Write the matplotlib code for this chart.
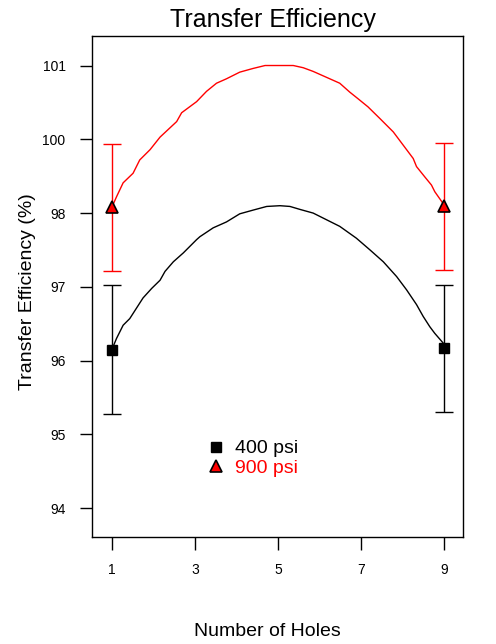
import matplotlib
matplotlib.use("Agg")
import matplotlib.pyplot as plt
from matplotlib.lines import Line2D

plt.rcParams['font.family'] = ['Liberation Sans', 'DejaVu Sans']

# ---- data ----
holes_pts = [1, 9]
eff_400 = [96.15, 96.17]
err_400 = [0.87, 0.86]
eff_900 = [98.08, 98.09]
err_900 = [0.86, 0.86]

curve_400_x = [1.0, 1.11, 1.27, 1.43, 1.59, 1.75, 1.96, 2.16, 2.28, 2.48, 2.72, 3.04, 3.12,
               3.44, 3.76, 4.08, 4.40, 4.73, 5.05, 5.29, 5.53, 5.85, 6.17, 6.49, 6.89,
               7.22, 7.54, 7.86, 8.10, 8.34, 8.50, 8.66, 8.78, 8.98, 9.0]
curve_400_y = [96.15, 96.30, 96.48, 96.57, 96.71, 96.85, 96.98, 97.09, 97.21, 97.34, 97.46,
               97.64, 97.68, 97.80, 97.88, 97.99, 98.04, 98.09, 98.10, 98.09, 98.05, 98.00,
               97.91, 97.82, 97.66, 97.50, 97.34, 97.14, 96.96, 96.76, 96.60, 96.46, 96.37,
               96.24, 96.17]

curve_900_x = [1.0, 1.11, 1.27, 1.51, 1.67, 1.92, 2.16, 2.56, 2.68, 3.04, 3.28, 3.52, 3.76,
               4.08, 4.40, 4.69, 5.05, 5.37, 5.61, 5.85, 6.09, 6.49, 6.73, 6.93, 7.17,
               7.46, 7.78, 8.02, 8.26, 8.34, 8.54, 8.70, 8.78, 8.98, 9.0]
curve_900_y = [98.08, 98.22, 98.41, 98.54, 98.72, 98.86, 99.03, 99.24, 99.36, 99.51, 99.65,
               99.76, 99.82, 99.91, 99.96, 100.0, 100.0, 100.0, 99.97, 99.92, 99.86, 99.76,
               99.64, 99.55, 99.44, 99.28, 99.10, 98.92, 98.74, 98.63, 98.49, 98.38, 98.29,
               98.13, 98.09]

x_ticks = [1, 3, 5, 7, 9]
y_tick_pos = [94, 95, 96, 97, 98, 99, 100]
y_tick_labels = ["94", "95", "96", "97", "98", "100", "101"]

fig = plt.figure(figsize=(4.96, 6.44), dpi=100)
ax = fig.add_axes([92/496, 107/644, (463-92)/496, (537-36)/644])

ax.plot(curve_400_x, curve_400_y, color='black', lw=1.0)
ax.plot(curve_900_x, curve_900_y, color='red', lw=1.0)

ax.errorbar(holes_pts, eff_400, yerr=err_400, fmt='none', ecolor='black',
            elinewidth=1.0, capsize=6.5, capthick=1.0)
ax.errorbar(holes_pts, eff_900, yerr=err_900, fmt='none', ecolor='red',
            elinewidth=1.0, capsize=6.5, capthick=1.0)
ax.plot(holes_pts, eff_400, 's', color='black', markersize=7, zorder=5)
ax.plot(holes_pts, eff_900, '^', markerfacecolor='red', markeredgecolor='black',
        markeredgewidth=1.2, markersize=8, zorder=5)

ax.set_xlim(0.52, 9.46)
ax.set_ylim(93.61, 100.40)
ax.set_xticks(x_ticks)
ax.set_xticklabels([str(t) for t in x_ticks])
ax.set_yticks(y_tick_pos)
ax.set_yticklabels(y_tick_labels)
ax.tick_params(axis='both', direction='out', length=9, width=1.0, labelsize=10, pad=10)
for s in ax.spines.values():
    s.set_linewidth(1.0)

handles = [Line2D([], [], ls='none', marker='s', color='black', markersize=7),
           Line2D([], [], ls='none', marker='^', markerfacecolor='red',
                  markeredgecolor='black', markeredgewidth=1.2, markersize=8)]
leg = ax.legend(handles, ['400 psi', '900 psi'], frameon=False, fontsize=14,
                loc='center left', bbox_to_anchor=(0.286, 0.157),
                handlelength=0.8, handletextpad=0.6, labelspacing=0.1, borderpad=0)
leg.get_texts()[0].set_color('black')
leg.get_texts()[1].set_color('red')

fig.text(273/496, 1 - 20/644, 'Transfer Efficiency', fontsize=18, ha='center', va='center')
fig.text(267/496, 1 - 632/644, 'Number of Holes', fontsize=14, ha='center', va='center')
fig.text(28/496, 1 - 292/644, 'Transfer Efficiency (%)', fontsize=14, ha='center',
         va='center', rotation=90)

fig.savefig('out.png', dpi=100)
